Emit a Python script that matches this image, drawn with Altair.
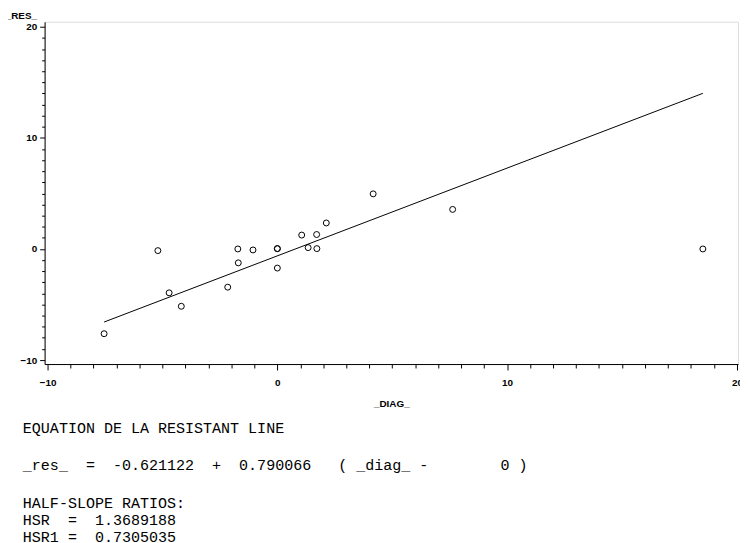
import altair as alt
import pandas as pd

# ---- data ----
diag = [-7.54, -5.20, -4.71, -4.18, -2.16, -1.72, -1.70, -1.06, 0.0, 0.0, 0.0,
        1.06, 1.34, 1.71, 1.72, 2.13, 4.17, 7.63, 18.52]
res = [-7.63, -0.15, -3.95, -5.16, -3.44, 0.0, -1.25, -0.09, 0.03, 0.03, -1.72,
       1.25, 0.12, 1.30, 0.03, 2.34, 4.96, 3.56, 0.0]

intercept = -0.621122
slope = 0.790066

x_ticks = list(range(-10, 21))
y_ticks = list(range(-10, 21))

text_lines = [
    "EQUATION DE LA RESISTANT LINE",
    "_res_  =  -0.621122  +  0.790066   ( _diag_ -        0 )",
    "HALF-SLOPE RATIOS:",
    "HSR  =  1.3689188",
    "HSR1 =  0.7305035",
]

pts = pd.DataFrame({"diag": diag, "res": res})
x0, x1 = min(diag), max(diag)
fit = pd.DataFrame({"diag": [x0, x1], "res": [intercept + slope * x0, intercept + slope * x1]})

xscale = alt.Scale(domain=[-10.13, 20.05], nice=False, zero=False)
yscale = alt.Scale(domain=[-10.36, 20.45], nice=False, zero=False)

tick_font = "Liberation Sans"

xaxis = alt.Axis(
    title="_DIAG_", values=x_ticks,
    labelExpr="datum.value % 10 === 0 ? datum.label : ''",
    tickSize={"condition": {"test": "datum.value % 10 === 0", "value": 6}, "value": 4},
    labelFont=tick_font, labelFontSize=10, labelFontWeight="bold", labelColor="black",
    labelOverlap=False, labelFlush=False, labelPadding=8,
    titleFont=tick_font, titleFontSize=10, titleFontWeight="bold", titleColor="black",
    titlePadding=11, grid=False, domainColor="black", tickColor="black",
)
yaxis = alt.Axis(
    title="_RES_", values=y_ticks,
    labelExpr="datum.value % 10 === 0 ? datum.label : ''",
    tickSize={"condition": {"test": "datum.value % 10 === 0", "value": 5}, "value": 3},
    labelFont=tick_font, labelFontSize=10, labelFontWeight="bold", labelColor="black",
    labelOverlap=False, labelFlush=False, labelPadding=3,
    titleFont=tick_font, titleFontSize=10, titleFontWeight="bold", titleColor="black",
    titleAngle=0, titleAlign="center", titleBaseline="alphabetic",
    titleX=-24, titleY=-3,
    grid=False, domainColor="black", tickColor="black",
)

X = alt.X("diag:Q", scale=xscale, axis=xaxis)
Y = alt.Y("res:Q", scale=yscale, axis=yaxis)

points = alt.Chart(pts).mark_point(
    shape="circle", filled=False, color="black", size=36, strokeWidth=1, opacity=1
).encode(x=X, y=Y)

line = alt.Chart(fit).mark_line(color="black", strokeWidth=1).encode(x=X, y=Y)

mono = "Courier New, Liberation Mono, monospace"
line_y = [410.5, 448.5, 486.5, 503.5, 520.5]
texts = []
for t, yy in zip(text_lines, line_y):
    texts.append(
        alt.Chart(pts).mark_text(
            font=mono, fontSize=15.2, align="left", baseline="middle", color="black"
        ).encode(
            x=alt.value(-22), y=alt.value(yy),
            text=alt.value(t.replace(" ", "\u00a0")),
        ).transform_filter("datum.diag === " + str(x1))
    )

chart = alt.layer(points, line, *texts).properties(
    width=701, height=346,
    padding={"left": 37, "top": 11, "right": 2, "bottom": 180},
    autosize=alt.AutoSizeParams(type="none"),
).configure_view(stroke="black", strokeWidth=1).configure(background="white")

chart.save("out.html", embed_options={"renderer": "svg", "actions": False})
